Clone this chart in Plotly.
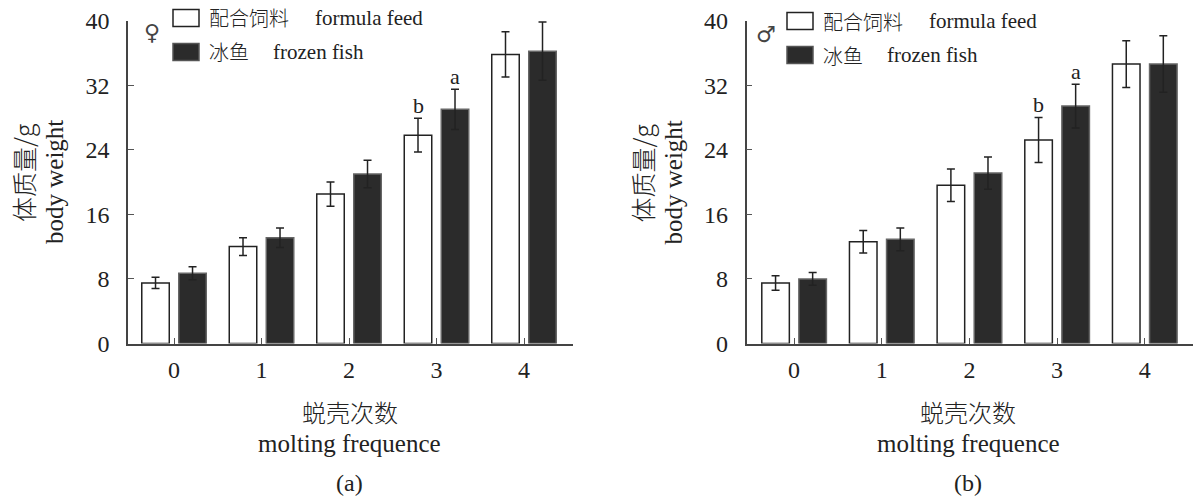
import plotly.graph_objects as go

# ---------------- data ----------------
molts = [0, 1, 2, 3, 4]
tick_labels = ["0", "1", "2", "3", "4"]

female_formula = [7.5, 12.0, 18.5, 25.8, 35.8]
female_formula_err = [0.7, 1.1, 1.5, 2.1, 2.8]
female_fish = [8.7, 13.1, 21.0, 29.0, 36.2]
female_fish_err = [0.8, 1.2, 1.7, 2.5, 3.6]

male_formula = [7.5, 12.6, 19.6, 25.2, 34.6]
male_formula_err = [0.9, 1.4, 2.0, 2.8, 2.9]
male_fish = [8.0, 12.9, 21.1, 29.4, 34.6]
male_fish_err = [0.8, 1.4, 2.0, 2.7, 3.5]

sig_molt = 3
sig_letters = ["b", "a"]  # formula feed, frozen fish

W, H = 1194, 501
SERIF = "Liberation Serif, Times New Roman, serif"
CJK = "Noto Sans CJK SC, sans-serif"

fig = go.Figure()

def add_panel(xa, ya, formula, formula_err, fish, fish_err):
    fig.add_trace(go.Bar(
        x=molts, y=formula, xaxis=xa, yaxis=ya, name="formula feed",
        marker=dict(color="white", line=dict(color="#222222", width=1.5)),
        error_y=dict(type="data", array=formula_err, color="#222222", thickness=1.5, width=4),
        showlegend=False))
    fig.add_trace(go.Bar(
        x=molts, y=fish, xaxis=xa, yaxis=ya, name="frozen fish",
        marker=dict(color="#2b2b2b", line=dict(color="#666666", width=1.5)),
        error_y=dict(type="data", array=fish_err, color="#222222", thickness=1.5, width=4),
        showlegend=False))

add_panel("x", "y", female_formula, female_formula_err, female_fish, female_fish_err)
add_panel("x2", "y2", male_formula, male_formula_err, male_fish, male_fish_err)

def px_x(p):
    return p / W

def px_y(p):
    return 1 - p / H

ydom = [px_y(343.5), px_y(20.5)]
axis_common = dict(showline=True, linecolor="#444444", linewidth=1.5, showgrid=False,
                   zeroline=False, ticks="inside", ticklen=6, tickwidth=1, tickcolor="#555555",
                   automargin=False, ticklabeloverflow="allow",
                   tickfont=dict(family=SERIF, size=24, color="#222222"))

fig.update_layout(
    template="none",
    width=W, height=H, margin=dict(l=0, r=0, t=0, b=0, pad=0, autoexpand=False),
    paper_bgcolor="white", plot_bgcolor="white",
    barmode="group", bargap=0.154, bargroupgap=0.257,
    xaxis=dict(domain=[px_x(128), px_x(573)], range=[-0.526, 4.56], tickvals=molts,
               ticktext=tick_labels, anchor="y", ticklabelstandoff=4, **axis_common),
    yaxis=dict(domain=ydom, range=[0, 40], dtick=8, anchor="x", ticklabelstandoff=12, **axis_common),
    xaxis2=dict(domain=[px_x(746.5), px_x(1193)], range=[-0.543, 4.55], tickvals=molts,
                ticktext=tick_labels, anchor="y2", ticklabelstandoff=4, **axis_common),
    yaxis2=dict(domain=ydom, range=[0, 40], dtick=8, anchor="x2", ticklabelstandoff=12, **axis_common),
)

ann = []
shapes = []

def text(x, y, t, size, family, xanchor="center", angle=0, color="#222222", weight=None):
    f = dict(family=family, size=size, color=color)
    if weight is not None:
        f["weight"] = weight
    ann.append(dict(x=px_x(x), y=px_y(y), xref="paper", yref="paper", text=t, showarrow=False,
                    xanchor=xanchor, yanchor="middle", textangle=angle, font=f))

for off, panel in [(0, "a"), (618.5, "b")]:
    # y-axis titles
    text(23 + off, 173, "体质量/g", 25, CJK, angle=-90, weight=300)
    text(54 + off, 182, "body weight", 25, SERIF, angle=-90)
    # x-axis titles
    cx = 350 + off
    text(cx, 411, "蜕壳次数", 24, CJK, weight=300)
    text(cx, 443, "molting frequence", 25, SERIF)
    text(cx, 483, "(" + panel + ")", 24, SERIF)

# legends (drawn manually)
for lx, ly, sym in [(173, 18, "♀"), (787, 21, "♂")]:
    shapes.append(dict(type="rect", xref="paper", yref="paper",
                       x0=px_x(lx), x1=px_x(lx + 26), y0=px_y(ly - 8.5), y1=px_y(ly + 8.5),
                       fillcolor="white", line=dict(color="#222222", width=1.5)))
    shapes.append(dict(type="rect", xref="paper", yref="paper",
                       x0=px_x(lx), x1=px_x(lx + 26), y0=px_y(ly + 25.5), y1=px_y(ly + 42.5),
                       fillcolor="#2b2b2b", line=dict(color="#555555", width=1.5)))
    text(lx + 34, ly, "配合饲料", 20, CJK, xanchor="left", weight=300)
    text(lx + 140, ly, "formula feed", 21, SERIF, xanchor="left")
    text(lx + 34, ly + 34, "冰鱼", 20, CJK, xanchor="left", weight=300)
    text(lx + 98, ly + 34, "frozen fish", 21, SERIF, xanchor="left")
    text(lx - 21, ly + 14, sym, 22, "DejaVu Sans", color="#444444")

# significance letters
bar_shift = 0.211
for xa, ya, vals in [("x", "y", [(female_formula, female_formula_err), (female_fish, female_fish_err)]),
                     ("x2", "y2", [(male_formula, male_formula_err), (male_fish, male_fish_err)])]:
    for k, (v, e) in enumerate(vals):
        sign = -1 if k == 0 else 1
        ann.append(dict(x=sig_molt + sign * bar_shift, y=v[sig_molt] + e[sig_molt], xref=xa, yref=ya,
                        text=sig_letters[k], showarrow=False, yanchor="bottom", yshift=-2,
                        font=dict(family=SERIF, size=22, color="#222222")))

fig.update_layout(annotations=ann, shapes=shapes)
# remove the page's default 8px body margin so the figure fills the window exactly
fig.write_html("out.html", config={"displayModeBar": False},
               post_script="document.body.style.margin='0px';")
